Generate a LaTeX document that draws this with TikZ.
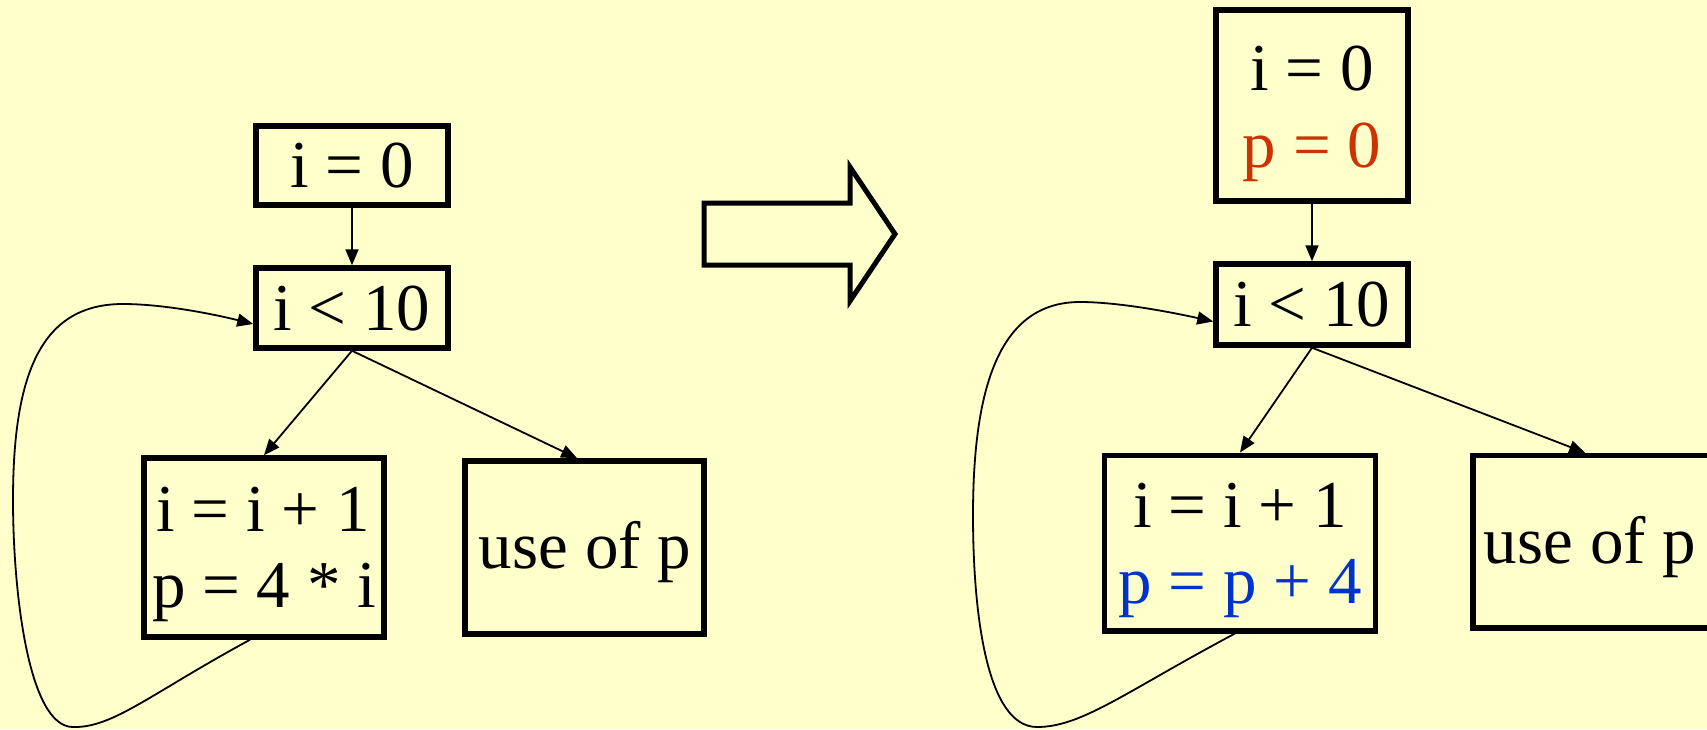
\documentclass[tikz,border=0pt]{standalone}
\usepackage{fontspec}
\setmainfont{Liberation Serif}
\usetikzlibrary{arrows.meta,calc}
\definecolor{bg}{HTML}{FFFFCC}
\definecolor{pred}{HTML}{CC3300}
\definecolor{pblue}{HTML}{0033CC}
\begin{document}
\begin{tikzpicture}[x=1pt,y=-1pt,
  box/.style={draw=black,line width=5.5pt,inner sep=0pt,outer sep=2.75pt},
  txt/.style={inner sep=0pt,anchor=base,font=\fontsize{67}{76}\selectfont},
  conn/.style={line width=1.8pt,-{Triangle[length=16pt,width=13pt]}},
  bigarrow/.style={draw=black,line width=5pt,miter limit=10}
]
\useasboundingbox[fill=bg] (0,0) rectangle (1707,729);

% ---------- left graph ----------
\node[box,minimum width=192pt,minimum height=79pt] (L0) at (352,165.5) {};
\node[box,minimum width=192pt,minimum height=80pt] (L1) at (352,308) {};
\node[box,minimum width=240pt,minimum height=179pt] (L2) at (264,547.5) {};
\node[box,minimum width=239pt,minimum height=173pt] (L3) at (584.5,547.5) {};

\node[txt] (L0t) at (352,187) {i = 0};
\node[txt] (L1t) at (352,330) {i < 10};
\node[txt] (L2a) at (263,531) {i = i + 1};
\node[txt] (L2b) at (264,607) {p = 4 * i};
\node[txt] (L3t) at (585,568) {use of p};

\draw[conn] (L0.south) -- (L1.north);
\draw[conn] (L1.south) -- (L2.north);
\draw[conn] (L1.south) -- ($(L3.north west)!0.47!(L3.north east)$);
\draw[conn] ($(L2.south)+(-14,0)$) .. controls (150,694) and (113,728) .. (73,727)
  .. controls (28,727) and (13,590) .. (13,500)
  .. controls (13,370) and (43,304) .. (123,304)
  .. controls (163,304) and (213,314) .. ($(L1.west)+(0,16)$);

% ---------- big arrow ----------
\draw[bigarrow] (704,203) -- (850,203) -- (850,167) -- (895,234) -- (850,301)
  -- (850,265) -- (704,265) -- cycle;

% ---------- right graph ----------
\node[box,minimum width=192pt,minimum height=191pt] (R0) at (1312,105.5) {};
\node[box,minimum width=192pt,minimum height=81pt] (R1) at (1312,304.5) {};
\node[box,minimum width=271pt,minimum height=175.5pt] (R2) at (1240,543) {};
\node[box,minimum width=239pt,minimum height=172.5pt] (R3) at (1592.5,541.75) {};

\node[txt] (R0a) at (1312,90) {i = 0};
\node[txt,text=pred] (R0b) at (1312,167) {p = 0};
\node[txt] (R1t) at (1312,326) {i < 10};
\node[txt] (R2a) at (1240,527) {i = i + 1};
\node[txt,text=pblue] (R2b) at (1240,603) {p = p + 4};
\node[txt] (R3t) at (1590,563) {use of p};

\draw[conn] (R0.south) -- (R1.north);
\draw[conn] (R1.south) -- (R2.north);
\draw[conn] (R1.south) -- ($(R3.north west)!0.47!(R3.north east)$);
\draw[conn] ($(R2.south)+(-5,0)$) .. controls (1125,692) and (1082,727) .. (1037,727)
  .. controls (987,727) and (973,615) .. (973,515)
  .. controls (973,375) and (1005,302) .. (1080,302)
  .. controls (1120,302) and (1175,313) .. ($(R1.west)+(0,17)$);
\end{tikzpicture}
\end{document}
